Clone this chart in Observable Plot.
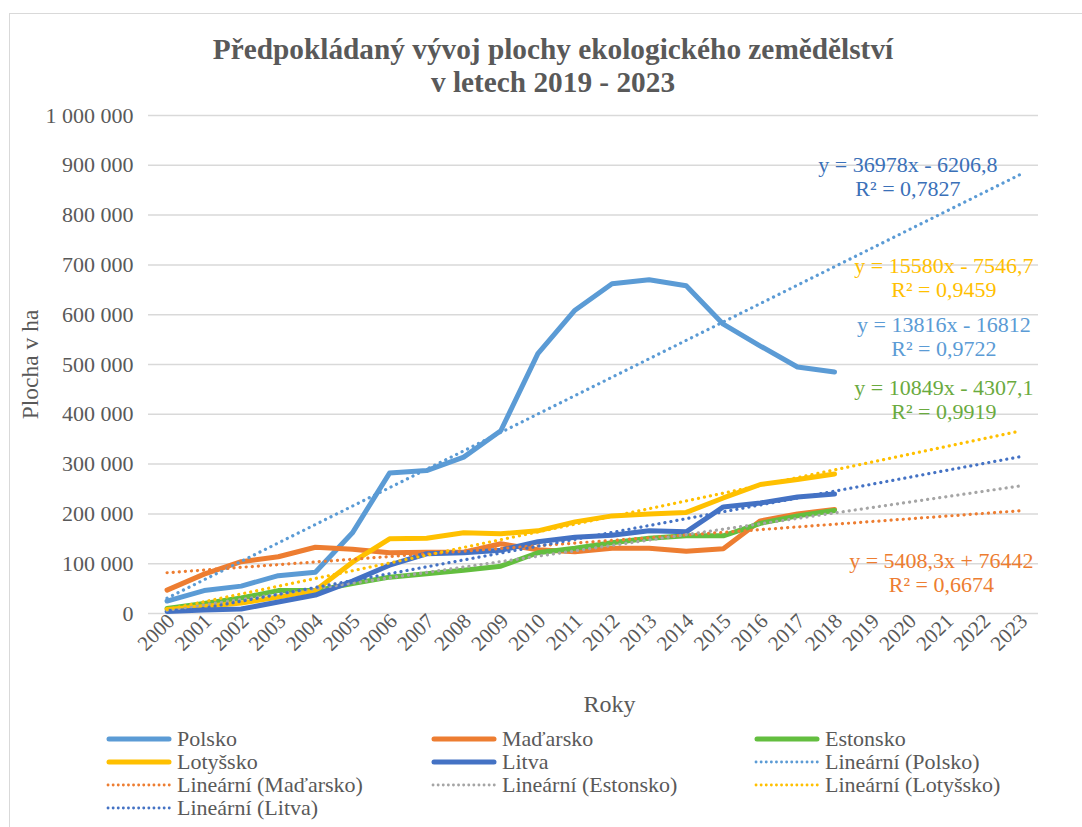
<!DOCTYPE html>
<html>
<head>
<meta charset="utf-8">
<script src="https://cdn.jsdelivr.net/npm/d3@7"></script>
<script src="https://cdn.jsdelivr.net/npm/@observablehq/plot@0.6"></script>
<style>
  html, body { margin: 0; padding: 0; background: #fff; }
  body { width: 1082px; height: 827px; position: relative; overflow: hidden;
         font-family: "Liberation Serif", Tinos, "Times New Roman", Times, serif; }
  #frame { position: absolute; left: 9px; top: 13px; width: 1100px; height: 840px;
           border: 1.5px solid #d9d9d9; box-sizing: border-box; }
  #title { position: absolute; left: 0; top: 32.5px; width: 1106px; text-align: center;
           font-weight: bold; font-size: 29.3px; line-height: 33px; color: #595959; }
  #chart { position: absolute; left: 0; top: 0; }
  #legend { position: absolute; left: 106px; top: 727px; display: grid;
            grid-template-columns: 325px 323px 300px; grid-auto-rows: 23px;
            font-size: 22px; color: #595959; }
  .item { display: flex; align-items: center; white-space: nowrap; }
  .item svg { margin-right: 5px; flex: none; }
</style>
</head>
<body>
<div id="frame"></div>
<div id="title">Předpokládaný vývoj plochy ekologického zemědělství<br>v letech 2019 - 2023</div>
<div id="chart"></div>
<div id="legend"></div>
<script>
// ---- data ----
const years = [2000, 2001, 2002, 2003, 2004, 2005, 2006, 2007, 2008, 2009, 2010, 2011, 2012, 2013, 2014, 2015, 2016, 2017, 2018];
const axisYears = [2000, 2001, 2002, 2003, 2004, 2005, 2006, 2007, 2008, 2009, 2010, 2011, 2012, 2013, 2014, 2015, 2016, 2017, 2018, 2019, 2020, 2021, 2022, 2023];
const yTicks = [0, 100000, 200000, 300000, 400000, 500000, 600000, 700000, 800000, 900000, 1000000];

const seriesNames = ["Polsko", "Maďarsko", "Estonsko", "Lotyšsko", "Litva"];
const polsko   = [25000, 46000, 55000, 76000, 83000, 162000, 282000, 287000, 314000, 367000, 522000, 609000, 662000, 670000, 658000, 581000, 537000, 495000, 485000];
const madarsko = [47000, 79000, 104000, 114000, 133000, 129000, 122000, 123000, 123000, 140000, 128000, 124000, 131000, 131000, 125000, 130000, 186000, 200000, 209000];
const estonsko = [10000, 20000, 31000, 46000, 46000, 60000, 73000, 80000, 87000, 95000, 122000, 131000, 142000, 151000, 156000, 156000, 181000, 196000, 207000];
const lotyssko = [8000, 14000, 21000, 33000, 46000, 103000, 150000, 151000, 162000, 160000, 166000, 184000, 196000, 200000, 203000, 232000, 259000, 269000, 280000];
const litva    = [4000, 7000, 9000, 23000, 37000, 65000, 97000, 120000, 122000, 127000, 144000, 153000, 157000, 166000, 164000, 214000, 222000, 234000, 240000];
const seriesValues = [polsko, madarsko, estonsko, lotyssko, litva];

// linear trend coefficients (x = 1 for 2000, ... 24 for 2023)
const trendSlope     = [36978, 5408.3, 10849, 15580, 13816];
const trendIntercept = [-6206.8, 76442, -4307.1, -7546.7, -16812];
const trendRange = [2000, 2023];

const eqText = [
  "y = 36978x - 6206,8\nR² = 0,7827",
  "y = 5408,3x + 76442\nR² = 0,6674",
  "y = 10849x - 4307,1\nR² = 0,9919",
  "y = 15580x - 7546,7\nR² = 0,9459",
  "y = 13816x - 16812\nR² = 0,9722"
];
const eqAtYear  = [2019.98, 2020.88, 2020.95, 2020.95, 2020.95];
const eqAtValue = [878500, 82800, 430700, 674700, 556200];

// ---- styles ----
const lineColors  = ["#5B9BD5", "#ED7D31", "#63BE3F", "#FFC000", "#4472C4"];
const trendColors = ["#5B9BD5", "#ED7D31", "#A5A5A5", "#FFC000", "#4472C4"];
const eqColors    = ["#3A70B8", "#ED7D31", "#6AAA3E", "#FFC000", "#5B9BD5"];
const trendNames = seriesNames.map(n => `Lineární (${n})`);

// ---- tables ----
const lineData = seriesNames.map((name, s) => years.map((yr, i) => ({series: name, year: yr, value: seriesValues[s][i]})));
const trendData = seriesNames.map((name, s) => trendRange.map(yr => ({series: name, year: yr, value: trendSlope[s] * (yr - 1999) + trendIntercept[s]})));
const eqData = seriesNames.map((name, s) => ({text: eqText[s], year: eqAtYear[s], value: eqAtValue[s], color: eqColors[s]}));

const fmt = d => d3.format(",")(d).replace(/,/g, " ");
const font = "'Liberation Serif', Tinos, 'Times New Roman', Times, serif";

const marks = [
  Plot.gridY(yTicks, {stroke: "#d9d9d9", strokeOpacity: 1, strokeWidth: 1.5}),
  Plot.axisY({ticks: yTicks, tickSize: 0, tickPadding: 15, tickFormat: fmt, fontSize: 22, fontFamily: font, fill: "#595959", label: null}),
  Plot.axisX({ticks: axisYears, tickSize: 0, tickPadding: 4, dx: 4, tickRotate: -45, tickFormat: d => String(d), fontSize: 21, fontFamily: font, fill: "#595959", label: null}),
  Plot.text(["Plocha v ha"], {frameAnchor: "left", textAnchor: "middle", rotate: -90, dx: -118, fontSize: 23.5, fontFamily: font, fill: "#595959"}),
  Plot.text(["Roky"], {frameAnchor: "bottom", textAnchor: "middle", dx: 16, dy: 98, lineAnchor: "bottom", fontSize: 24, fontFamily: font, fill: "#595959"})
];
lineData.forEach((d, s) => marks.push(
  Plot.line(d, {x: "year", y: "value", stroke: lineColors[s], strokeWidth: 5, strokeLinecap: "round", strokeLinejoin: "round"})
));
trendData.forEach((d, s) => marks.push(
  Plot.line(d, {x: "year", y: "value", stroke: trendColors[s], strokeWidth: 3.2, strokeDasharray: "0.1 6", strokeLinecap: "round", clip: true})
));
marks.push(Plot.text(eqData, {x: "year", y: "value", text: "text", fill: "color", fontSize: 22, fontFamily: font, lineHeight: 1.1, textAnchor: "middle"}));

const chart = Plot.plot({
  width: 1082,
  height: 700,
  marginTop: 115,
  marginBottom: 87,
  marginLeft: 148,
  marginRight: 44,
  style: {fontFamily: font, fontSize: "21px", color: "#595959", background: "transparent", overflow: "visible"},
  x: {type: "linear", domain: [1999.5, 2023.5]},
  y: {domain: [0, 1000000]},
  marks
});
document.getElementById("chart").appendChild(chart);

// ---- legend ----
const legendItems = [
  {name: seriesNames[0], color: lineColors[0], dotted: false},
  {name: seriesNames[1], color: lineColors[1], dotted: false},
  {name: seriesNames[2], color: lineColors[2], dotted: false},
  {name: seriesNames[3], color: lineColors[3], dotted: false},
  {name: seriesNames[4], color: lineColors[4], dotted: false},
  {name: trendNames[0], color: trendColors[0], dotted: true},
  {name: trendNames[1], color: trendColors[1], dotted: true},
  {name: trendNames[2], color: trendColors[2], dotted: true},
  {name: trendNames[3], color: trendColors[3], dotted: true},
  {name: trendNames[4], color: trendColors[4], dotted: true}
];
const legend = d3.select("#legend");
legendItems.forEach(it => {
  const item = legend.append("div").attr("class", "item");
  const svg = item.append("svg").attr("width", 66).attr("height", 10);
  svg.append("line").attr("x1", it.dotted ? 2 : 3).attr("x2", it.dotted ? 64 : 63).attr("y1", 5).attr("y2", 5)
    .attr("stroke", it.color).attr("stroke-width", it.dotted ? 2.8 : 5).attr("stroke-linecap", "round")
    .attr("stroke-dasharray", it.dotted ? "0.1 5" : null);
  item.append("span").text(it.name);
});
</script>
</body>
</html>
